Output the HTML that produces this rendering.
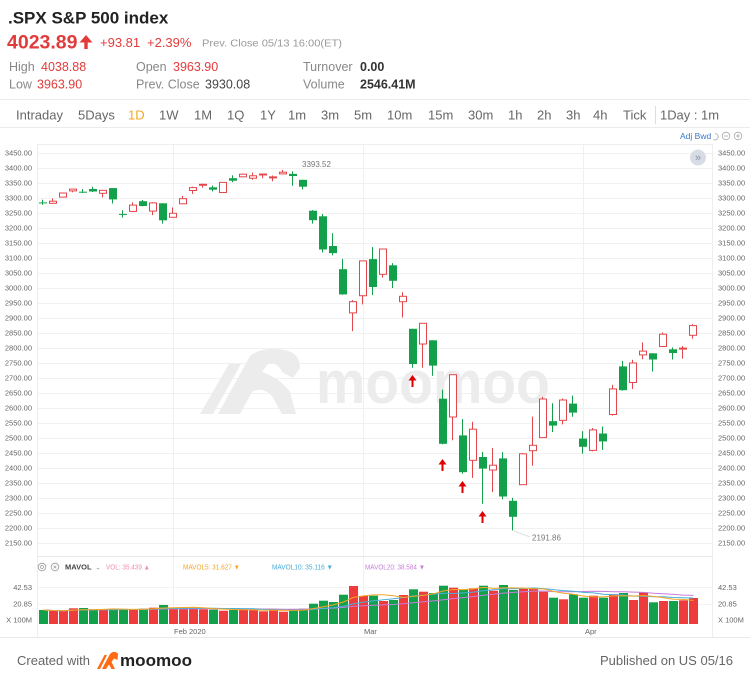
<!DOCTYPE html>
<html>
<head>
<meta charset="utf-8">
<style>
html,body{margin:0;padding:0;background:#fff;}
body{width:750px;height:680px;overflow:hidden;position:relative;}
svg{position:absolute;left:0;top:0;display:block;}
text{font-family:"Liberation Sans",Arial,sans-serif;}
</style>
</head>
<body>
<svg width="750" height="680" viewBox="0 0 750 680" xmlns="http://www.w3.org/2000/svg">
<rect x="0" y="0" width="750" height="680" fill="#fff"/>

<!-- ===== HEADER ===== -->
<text x="8" y="23.5" font-size="17" font-weight="bold" fill="#222">.SPX S&amp;P 500 index</text>
<text x="7" y="48.5" font-size="19.5" font-weight="bold" fill="#e23b3b">4023.89</text>
<path d="M86 35 L79.5 42.5 L92.5 42.5 Z" fill="#e23b3b"/>
<rect x="84.3" y="41" width="3.4" height="8" fill="#e23b3b"/>
<text x="100" y="47" font-size="13" fill="#e23b3b">+93.81</text>
<text x="147" y="47" font-size="13" fill="#e23b3b">+2.39%</text>
<text x="202" y="46.5" font-size="10.5" fill="#9a9a9a" textLength="140" lengthAdjust="spacingAndGlyphs">Prev. Close 05/13 16:00(ET)</text>

<g font-size="12.5">
<text x="9" y="71" fill="#888">High</text>
<text x="41" y="71" fill="#e23b3b">4038.88</text>
<text x="136" y="71" fill="#888">Open</text>
<text x="173" y="71" fill="#e23b3b">3963.90</text>
<text x="303" y="71" fill="#888">Turnover</text>
<text x="360" y="71" fill="#333" font-weight="bold">0.00</text>
<text x="9" y="88.5" fill="#888">Low</text>
<text x="37" y="88.5" fill="#e23b3b">3963.90</text>
<text x="136" y="88.5" fill="#888">Prev. Close</text>
<text x="205" y="88.5" fill="#444">3930.08</text>
<text x="303" y="88.5" fill="#888">Volume</text>
<text x="360" y="88.5" fill="#333" font-weight="bold">2546.41M</text>
</g>

<!-- ===== TABS ===== -->
<line x1="0" y1="99.5" x2="750" y2="99.5" stroke="#ebebeb"/>
<line x1="0" y1="127.5" x2="750" y2="127.5" stroke="#ebebeb"/>
<g font-size="13" fill="#666">
<text x="16" y="119.5">Intraday</text>
<text x="78" y="119.5">5Days</text>
<text x="128" y="119.5" fill="#f5a623">1D</text>
<text x="159" y="119.5">1W</text>
<text x="194" y="119.5">1M</text>
<text x="227" y="119.5">1Q</text>
<text x="260" y="119.5">1Y</text>
<text x="288" y="119.5">1m</text>
<text x="321" y="119.5">3m</text>
<text x="354" y="119.5">5m</text>
<text x="387" y="119.5">10m</text>
<text x="428" y="119.5">15m</text>
<text x="468" y="119.5">30m</text>
<text x="508" y="119.5">1h</text>
<text x="537" y="119.5">2h</text>
<text x="566" y="119.5">3h</text>
<text x="593" y="119.5">4h</text>
<text x="623" y="119.5">Tick</text>
<text x="660" y="119.5" textLength="59" lengthAdjust="spacingAndGlyphs">1Day : 1m</text>
</g>
<line x1="655.5" y1="106" x2="655.5" y2="124" stroke="#ddd"/>

<!-- Adj Bwd + icons -->
<text x="680" y="139" font-size="8.5" fill="#3a78c9">Adj Bwd</text>
<path d="M715 133.5 A3.2 3.2 0 1 1 713.5 139.5" fill="none" stroke="#aaa" stroke-width="0.8"/>
<circle cx="726" cy="136" r="3.8" fill="none" stroke="#aaa" stroke-width="0.8"/>
<line x1="724" y1="136" x2="728" y2="136" stroke="#aaa" stroke-width="0.8"/>
<circle cx="738" cy="136" r="3.8" fill="none" stroke="#aaa" stroke-width="0.8"/>
<line x1="736" y1="136" x2="740" y2="136" stroke="#aaa" stroke-width="0.8"/>
<line x1="738" y1="134" x2="738" y2="138" stroke="#aaa" stroke-width="0.8"/>

<!-- ===== PRICE PLOT FRAME / GRID ===== -->
<line x1="37" y1="144.5" x2="713" y2="144.5" stroke="#eeeeee"/>
<line x1="37.5" y1="144" x2="37.5" y2="637" stroke="#eeeeee"/>
<line x1="712.5" y1="144" x2="712.5" y2="637" stroke="#eeeeee"/>
<path d="M38 153.5H712M38 168.5H712M38 183.5H712M38 198.5H712M38 213.5H712M38 228.5H712M38 243.5H712M38 258.5H712M38 273.5H712M38 288.5H712M38 303.5H712M38 318.5H712M38 333.5H712M38 348.5H712M38 363.5H712M38 378.5H712M38 393.5H712M38 408.5H712M38 423.5H712M38 438.5H712M38 453.5H712M38 468.5H712M38 483.5H712M38 498.5H712M38 513.5H712M38 528.5H712M38 543.5H712" stroke="#f1f1f1" fill="none"/>
<path d="M173.5 145V625M363.5 145V625M583.5 145V625" stroke="#f0f0f0" fill="none"/>
<line x1="37" y1="556.5" x2="713" y2="556.5" stroke="#e8e8e8"/>

<!-- axis labels -->
<g font-size="7.5" fill="#666" text-anchor="end">
<text x="32" y="155.7">3450.00</text><text x="32" y="170.7">3400.00</text><text x="32" y="185.7">3350.00</text><text x="32" y="200.7">3300.00</text><text x="32" y="215.7">3250.00</text><text x="32" y="230.7">3200.00</text><text x="32" y="245.7">3150.00</text><text x="32" y="260.7">3100.00</text><text x="32" y="275.7">3050.00</text><text x="32" y="290.7">3000.00</text><text x="32" y="305.7">2950.00</text><text x="32" y="320.7">2900.00</text><text x="32" y="335.7">2850.00</text><text x="32" y="350.7">2800.00</text><text x="32" y="365.7">2750.00</text><text x="32" y="380.7">2700.00</text><text x="32" y="395.7">2650.00</text><text x="32" y="410.7">2600.00</text><text x="32" y="425.7">2550.00</text><text x="32" y="440.7">2500.00</text><text x="32" y="455.7">2450.00</text><text x="32" y="470.7">2400.00</text><text x="32" y="485.7">2350.00</text><text x="32" y="500.7">2300.00</text><text x="32" y="515.7">2250.00</text><text x="32" y="530.7">2200.00</text><text x="32" y="545.7">2150.00</text>
</g>
<g font-size="7.5" fill="#666">
<text x="718" y="155.7">3450.00</text><text x="718" y="170.7">3400.00</text><text x="718" y="185.7">3350.00</text><text x="718" y="200.7">3300.00</text><text x="718" y="215.7">3250.00</text><text x="718" y="230.7">3200.00</text><text x="718" y="245.7">3150.00</text><text x="718" y="260.7">3100.00</text><text x="718" y="275.7">3050.00</text><text x="718" y="290.7">3000.00</text><text x="718" y="305.7">2950.00</text><text x="718" y="320.7">2900.00</text><text x="718" y="335.7">2850.00</text><text x="718" y="350.7">2800.00</text><text x="718" y="365.7">2750.00</text><text x="718" y="380.7">2700.00</text><text x="718" y="395.7">2650.00</text><text x="718" y="410.7">2600.00</text><text x="718" y="425.7">2550.00</text><text x="718" y="440.7">2500.00</text><text x="718" y="455.7">2450.00</text><text x="718" y="470.7">2400.00</text><text x="718" y="485.7">2350.00</text><text x="718" y="500.7">2300.00</text><text x="718" y="515.7">2250.00</text><text x="718" y="530.7">2200.00</text><text x="718" y="545.7">2150.00</text>
</g>

<!-- ===== WATERMARK ===== -->
<g fill="#ececec">
<path d="M200 414 L229 364 L241 364 L213 414 Z"/>
<path d="M218 414 L250 356 Q262 346 285 350 Q300 353 300 368 L293 378 L282 372 Q278 362 268 364 L262 372 Q280 378 290 392 L296 414 L282 414 L272 396 Q262 386 252 392 L240 414 Z"/>
<text x="316" y="403" font-size="60" font-weight="bold" textLength="234" lengthAdjust="spacingAndGlyphs">moomoo</text>
</g>

<!-- "»" button -->
<circle cx="698" cy="157.5" r="8" fill="#d8dde5"/>
<text x="698" y="161" font-size="11" fill="#8593a8" text-anchor="middle">»</text>

<!-- ===== CANDLES: GREEN (down) ===== -->
<g fill="#13a04b">
<rect x="42" y="199.7" width="1" height="5.1"/><rect x="39" y="202.4" width="8" height="1"/>
<rect x="82" y="189.1" width="1" height="3.9"/><rect x="79" y="191.7" width="8" height="1"/>
<rect x="92" y="186.7" width="1" height="5.3"/><rect x="89" y="189.0" width="8" height="2.5"/>
<rect x="112" y="188.0" width="1" height="15.5"/><rect x="109" y="188.1" width="8" height="11.3"/>
<rect x="122" y="210.3" width="1" height="7.3"/><rect x="119" y="213.9" width="8" height="1"/>
<rect x="142" y="200.0" width="1" height="6.4"/><rect x="139" y="201.2" width="8" height="4.8"/>
<rect x="162" y="203.3" width="1" height="20.3"/><rect x="159" y="203.3" width="8" height="17.0"/>
<rect x="212" y="185.6" width="1" height="5.8"/><rect x="209" y="187.3" width="8" height="2.4"/>
<rect x="232" y="175.3" width="1" height="6.9"/><rect x="229" y="178.2" width="8" height="2.5"/>
<rect x="292" y="171.3" width="1" height="14.4"/><rect x="289" y="173.9" width="8" height="2.1"/>
<rect x="302" y="179.8" width="1" height="9.7"/><rect x="299" y="179.8" width="8" height="6.9"/>
<rect x="312" y="210.1" width="1" height="13.5"/><rect x="309" y="210.7" width="8" height="9.5"/>
<rect x="322" y="213.9" width="1" height="38.5"/><rect x="319" y="216.3" width="8" height="33.2"/>
<rect x="332" y="233.2" width="1" height="22.1"/><rect x="329" y="246.0" width="8" height="7.1"/>
<rect x="342" y="258.9" width="1" height="35.9"/><rect x="339" y="269.2" width="8" height="25.2"/>
<rect x="372" y="247.0" width="1" height="48.0"/><rect x="369" y="259.1" width="8" height="27.9"/>
<rect x="392" y="263.1" width="1" height="24.9"/><rect x="389" y="265.3" width="8" height="15.5"/>
<rect x="412" y="328.8" width="1" height="38.9"/><rect x="409" y="328.8" width="8" height="35.2"/>
<rect x="432" y="340.3" width="1" height="35.5"/><rect x="429" y="340.3" width="8" height="25.3"/>
<rect x="442" y="389.7" width="1" height="54.6"/><rect x="439" y="398.7" width="8" height="45.1"/>
<rect x="462" y="419.1" width="1" height="54.6"/><rect x="459" y="435.4" width="8" height="36.8"/>
<rect x="482" y="451.9" width="1" height="51.9"/><rect x="479" y="457.0" width="8" height="11.6"/>
<rect x="502" y="452.1" width="1" height="47.2"/><rect x="499" y="458.4" width="8" height="38.1"/>
<rect x="512" y="497.8" width="1" height="32.6"/><rect x="509" y="500.8" width="8" height="16.0"/>
<rect x="552" y="403.2" width="1" height="28.8"/><rect x="549" y="421.2" width="8" height="4.4"/>
<rect x="572" y="395.6" width="1" height="21.1"/><rect x="569" y="403.6" width="8" height="9.0"/>
<rect x="582" y="431.2" width="1" height="22.6"/><rect x="579" y="438.6" width="8" height="8.2"/>
<rect x="602" y="426.5" width="1" height="23.5"/><rect x="599" y="433.5" width="8" height="7.9"/>
<rect x="622" y="360.9" width="1" height="29.8"/><rect x="619" y="366.4" width="8" height="23.8"/>
<rect x="652" y="353.3" width="1" height="18.3"/><rect x="649" y="353.3" width="8" height="6.2"/>
<rect x="672" y="347.4" width="1" height="12.1"/><rect x="669" y="349.3" width="8" height="3.7"/>
</g>

<!-- ===== CANDLES: RED (up, hollow) ===== -->
<g fill="#e4474b">
<rect x="52" y="198.4" width="1" height="5.4"/>
<rect x="62" y="192.9" width="1" height="4.3"/>
<rect x="72" y="189.0" width="1" height="3.3"/>
<rect x="102" y="189.9" width="1" height="7.5"/>
<rect x="132" y="202.3" width="1" height="9.7"/>
<rect x="152" y="202.2" width="1" height="13.0"/>
<rect x="172" y="207.5" width="1" height="9.8"/>
<rect x="182" y="195.9" width="1" height="7.9"/>
<rect x="192" y="186.7" width="1" height="7.2"/>
<rect x="202" y="183.6" width="1" height="4.1"/>
<rect x="222" y="182.3" width="1" height="10.4"/>
<rect x="242" y="173.6" width="1" height="3.5"/>
<rect x="252" y="172.5" width="1" height="7.3"/>
<rect x="262" y="173.8" width="1" height="4.4"/>
<rect x="272" y="175.5" width="1" height="5.8"/>
<rect x="282" y="169.9" width="1" height="4.5"/>
<rect x="352" y="300.1" width="1" height="31.1"/>
<rect x="362" y="260.7" width="1" height="43.7"/>
<rect x="382" y="248.7" width="1" height="29.0"/>
<rect x="402" y="292.2" width="1" height="25.3"/>
<rect x="422" y="323.2" width="1" height="44.6"/>
<rect x="452" y="374.6" width="1" height="65.7"/>
<rect x="472" y="421.8" width="1" height="56.1"/>
<rect x="492" y="447.9" width="1" height="44.2"/>
<rect x="522" y="453.1" width="1" height="31.6"/>
<rect x="532" y="416.6" width="1" height="49.1"/>
<rect x="542" y="396.9" width="1" height="40.9"/>
<rect x="562" y="398.5" width="1" height="25.9"/>
<rect x="592" y="428.0" width="1" height="23.3"/>
<rect x="612" y="384.9" width="1" height="30.7"/>
<rect x="632" y="359.8" width="1" height="29.2"/>
<rect x="642" y="342.4" width="1" height="16.9"/>
<rect x="662" y="332.4" width="1" height="14.1"/>
<rect x="682" y="346.0" width="1" height="12.7"/>
<rect x="692" y="324.2" width="1" height="14.5"/>
</g>
<g fill="#fff" stroke="#e4474b" stroke-width="1">
<rect x="49.5" y="201.2" width="7" height="2.1"/>
<rect x="59.5" y="193.0" width="7" height="4.1"/>
<rect x="69.5" y="189.1" width="7" height="1.8"/>
<rect x="99.5" y="190.3" width="7" height="3.0"/>
<rect x="129.5" y="205.1" width="7" height="6.3"/>
<rect x="149.5" y="202.9" width="7" height="8.2"/>
<rect x="169.5" y="213.3" width="7" height="4.0"/>
<rect x="179.5" y="198.7" width="7" height="5.1"/>
<rect x="189.5" y="187.6" width="7" height="2.9"/>
<rect x="199.5" y="184.3" width="7" height="1"/>
<rect x="219.5" y="182.4" width="7" height="10.1"/>
<rect x="239.5" y="174.2" width="7" height="2.6"/>
<rect x="249.5" y="175.8" width="7" height="2.4"/>
<rect x="259.5" y="174.0" width="7" height="1"/>
<rect x="269.5" y="176.9" width="7" height="1"/>
<rect x="279.5" y="172.2" width="7" height="1.7"/>
<rect x="349.5" y="301.7" width="7" height="11.2"/>
<rect x="359.5" y="260.9" width="7" height="34.8"/>
<rect x="379.5" y="249.0" width="7" height="25.3"/>
<rect x="399.5" y="296.3" width="7" height="5.4"/>
<rect x="419.5" y="323.3" width="7" height="20.7"/>
<rect x="449.5" y="374.7" width="7" height="42.3"/>
<rect x="469.5" y="429.2" width="7" height="31.1"/>
<rect x="489.5" y="465.2" width="7" height="4.8"/>
<rect x="519.5" y="453.8" width="7" height="30.9"/>
<rect x="529.5" y="445.3" width="7" height="5.4"/>
<rect x="539.5" y="399.0" width="7" height="38.6"/>
<rect x="559.5" y="400.0" width="7" height="20.3"/>
<rect x="589.5" y="429.9" width="7" height="20.5"/>
<rect x="609.5" y="388.9" width="7" height="25.6"/>
<rect x="629.5" y="363.0" width="7" height="19.5"/>
<rect x="639.5" y="351.1" width="7" height="3.8"/>
<rect x="659.5" y="334.2" width="7" height="12.3"/>
<rect x="679.5" y="348.1" width="7" height="1"/>
<rect x="689.5" y="325.6" width="7" height="9.7"/>
</g>

<!-- annotations -->
<text x="302" y="167" font-size="8" fill="#777">3393.52</text>
<line x1="514" y1="531" x2="530" y2="537" stroke="#d8d8d8" stroke-width="0.8"/>
<text x="532" y="540.5" font-size="8" fill="#777">2191.86</text>

<!-- red arrows -->
<g fill="#e00000">
<path d="M412.5 375 L408.5 380.5 L416.5 380.5 Z"/><rect x="411.5" y="380" width="2" height="7"/>
<path d="M442.5 459 L438.5 464.5 L446.5 464.5 Z"/><rect x="441.5" y="464" width="2" height="7"/>
<path d="M462.5 481 L458.5 486.5 L466.5 486.5 Z"/><rect x="461.5" y="486" width="2" height="7"/>
<path d="M482.5 511 L478.5 516.5 L486.5 516.5 Z"/><rect x="481.5" y="516" width="2" height="7"/>
</g>

<!-- ===== VOLUME PANEL ===== -->
<circle cx="42" cy="567" r="3.8" fill="none" stroke="#999" stroke-width="0.8"/>
<circle cx="42" cy="567" r="1.5" fill="none" stroke="#999" stroke-width="0.7"/>
<circle cx="55" cy="567" r="3.8" fill="none" stroke="#999" stroke-width="0.8"/>
<path d="M53.6 565.6 L56.4 568.4 M56.4 565.6 L53.6 568.4" stroke="#999" stroke-width="0.7"/>
<text x="65" y="569.7" font-size="7.5" font-weight="bold" fill="#444">MAVOL</text>
<text x="95" y="569.7" font-size="7" fill="#999">⌄</text>
<text x="106" y="569.7" font-size="7" fill="#f08cb0" textLength="44" lengthAdjust="spacingAndGlyphs">VOL: 35.439 ▲</text>
<text x="183" y="569.7" font-size="7" fill="#f5a623" textLength="57" lengthAdjust="spacingAndGlyphs">MAVOL5: 31.627 ▼</text>
<text x="272" y="569.7" font-size="7" fill="#46acd8" textLength="61" lengthAdjust="spacingAndGlyphs">MAVOL10: 35.116 ▼</text>
<text x="365" y="569.7" font-size="7" fill="#c77ddb" textLength="60" lengthAdjust="spacingAndGlyphs">MAVOL20: 38.584 ▼</text>

<path d="M38 587.5H712M38 604.5H712" stroke="#f3f3f3" fill="none"/>

<g font-size="7.5" fill="#666" text-anchor="end">
<text x="32" y="589.8">42.53</text>
<text x="32" y="606.5">20.85</text>
<text x="32" y="622.5">X 100M</text>
</g>
<g font-size="7.5" fill="#666">
<text x="718" y="589.8">42.53</text>
<text x="718" y="606.5">20.85</text>
<text x="718" y="622.5">X 100M</text>
</g>

<!-- volume bars green -->
<g fill="#13a04b">
<rect x="39" y="610" width="9" height="14"/>
<rect x="79" y="608" width="9" height="16"/>
<rect x="89" y="610" width="9" height="14"/>
<rect x="109" y="608.7" width="9" height="15.3"/>
<rect x="119" y="609" width="9" height="15"/>
<rect x="139" y="608.7" width="9" height="15.3"/>
<rect x="159" y="605" width="9" height="19"/>
<rect x="209" y="609.7" width="9" height="14.3"/>
<rect x="229" y="610" width="9" height="14"/>
<rect x="289" y="609.3" width="9" height="14.7"/>
<rect x="299" y="608.7" width="9" height="15.3"/>
<rect x="309" y="603.7" width="9" height="20.3"/>
<rect x="319" y="600.7" width="9" height="23.3"/>
<rect x="329" y="602" width="9" height="22"/>
<rect x="339" y="594.7" width="9" height="29.3"/>
<rect x="369" y="595.7" width="9" height="28.3"/>
<rect x="389" y="600" width="9" height="24"/>
<rect x="409" y="589.3" width="9" height="34.7"/>
<rect x="429" y="593" width="9" height="31"/>
<rect x="439" y="585.7" width="9" height="38.3"/>
<rect x="459" y="589.7" width="9" height="34.3"/>
<rect x="479" y="585.7" width="9" height="38.3"/>
<rect x="499" y="585" width="9" height="39"/>
<rect x="509" y="590" width="9" height="34"/>
<rect x="549" y="597.7" width="9" height="26.3"/>
<rect x="569" y="594.3" width="9" height="29.7"/>
<rect x="579" y="597.7" width="9" height="26.3"/>
<rect x="599" y="597.7" width="9" height="26.3"/>
<rect x="619" y="593" width="9" height="31"/>
<rect x="649" y="602.3" width="9" height="21.7"/>
<rect x="669" y="601" width="9" height="23"/>
</g>
<!-- volume bars red -->
<g fill="#ee3b3b">
<rect x="49" y="611" width="9" height="13"/>
<rect x="59" y="611" width="9" height="13"/>
<rect x="69" y="608.3" width="9" height="15.7"/>
<rect x="99" y="609.7" width="9" height="14.3"/>
<rect x="129" y="609.7" width="9" height="14.3"/>
<rect x="149" y="607.7" width="9" height="16.3"/>
<rect x="169" y="608" width="9" height="16"/>
<rect x="179" y="608" width="9" height="16"/>
<rect x="189" y="608" width="9" height="16"/>
<rect x="199" y="609.3" width="9" height="14.7"/>
<rect x="219" y="610.7" width="9" height="13.3"/>
<rect x="239" y="609.3" width="9" height="14.7"/>
<rect x="249" y="610" width="9" height="14"/>
<rect x="259" y="611.3" width="9" height="12.7"/>
<rect x="269" y="609.7" width="9" height="14.3"/>
<rect x="279" y="611.7" width="9" height="12.3"/>
<rect x="349" y="586" width="9" height="38"/>
<rect x="359" y="596" width="9" height="28"/>
<rect x="379" y="601" width="9" height="23"/>
<rect x="399" y="595" width="9" height="29"/>
<rect x="419" y="591.7" width="9" height="32.3"/>
<rect x="449" y="587.7" width="9" height="36.3"/>
<rect x="469" y="588.3" width="9" height="35.7"/>
<rect x="489" y="590.7" width="9" height="33.3"/>
<rect x="519" y="589" width="9" height="35"/>
<rect x="529" y="588.7" width="9" height="35.3"/>
<rect x="539" y="591.7" width="9" height="32.3"/>
<rect x="559" y="599.3" width="9" height="24.7"/>
<rect x="589" y="595.7" width="9" height="28.3"/>
<rect x="609" y="594.3" width="9" height="29.7"/>
<rect x="629" y="600" width="9" height="24"/>
<rect x="639" y="592.3" width="9" height="31.7"/>
<rect x="659" y="601" width="9" height="23"/>
<rect x="679" y="600.3" width="9" height="23.7"/>
<rect x="689" y="598" width="9" height="26"/>
</g>

<!-- MA lines -->
<polyline fill="none" stroke="#c77ddb" stroke-width="1" points="43.5,610 53.5,610.5 63.5,610.7 73.5,610.1 83.5,609.7 93.5,609.7 103.5,609.7 113.5,609.6 123.5,609.5 133.5,609.5 143.5,609.5 153.5,609.3 163.5,609 173.5,608.9 183.5,608.9 193.5,608.8 203.5,608.8 213.5,608.9 223.5,609 233.5,609 243.5,609 253.5,608.9 263.5,609 273.5,609 283.5,609.2 293.5,609.2 303.5,609.1 313.5,608.9 323.5,608.5 333.5,608.1 343.5,607.4 353.5,606.3 363.5,605.8 373.5,605.2 383.5,604.9 393.5,604.5 403.5,603.8 413.5,602.7 423.5,601.8 433.5,600.9 443.5,599.8 453.5,598.6 463.5,597.6 473.5,596.5 483.5,595.2 493.5,594.3 503.5,593.1 513.5,592.4 523.5,591.8 533.5,591.1 543.5,591 553.5,591.6 563.5,591.7 573.5,591.7 583.5,591.5 593.5,591.3 603.5,591.4 613.5,591.7 623.5,591.7 633.5,592.1 643.5,592.4 653.5,593.2 663.5,593.7 673.5,594.4 683.5,595.1 693.5,595.4"/>
<polyline fill="none" stroke="#4aaedb" stroke-width="1" points="43.5,610 53.5,610.5 63.5,610.7 73.5,610.1 83.5,609.7 93.5,609.7 103.5,609.7 113.5,609.6 123.5,609.5 133.5,609.5 143.5,609.4 153.5,609.1 163.5,608.5 173.5,608.4 183.5,608.4 193.5,608.2 203.5,608.2 213.5,608.3 223.5,608.5 233.5,608.5 243.5,608.6 253.5,608.8 263.5,609.4 273.5,609.6 283.5,610 293.5,610.1 303.5,610 313.5,609.4 323.5,608.4 333.5,607.6 343.5,606.2 353.5,603.8 363.5,602.2 373.5,600.8 383.5,599.8 393.5,598.8 403.5,597.5 413.5,596 423.5,595.1 433.5,594.2 443.5,593.3 453.5,593.5 463.5,592.9 473.5,592.1 483.5,590.6 493.5,589.7 503.5,588.7 513.5,588.7 523.5,588.5 533.5,588 543.5,588.6 553.5,589.6 563.5,590.6 573.5,591.2 583.5,592.4 593.5,592.9 603.5,594.2 613.5,594.6 623.5,595 633.5,596.1 643.5,596.2 653.5,596.7 663.5,596.8 673.5,597.5 683.5,597.8 693.5,598"/>
<polyline fill="none" stroke="#f5a623" stroke-width="1" points="43.5,610 53.5,610.5 63.5,610.7 73.5,610.1 83.5,609.7 93.5,609.7 103.5,609.4 113.5,608.9 123.5,609.1 133.5,609.4 143.5,609.2 153.5,608.8 163.5,608 173.5,607.8 183.5,607.5 193.5,607.3 203.5,607.7 213.5,608.6 223.5,609.1 233.5,609.5 243.5,609.8 253.5,609.9 263.5,610.3 273.5,610.1 283.5,610.4 293.5,610.4 303.5,610.1 313.5,608.6 323.5,606.8 333.5,604.9 343.5,602 353.5,597.4 363.5,595.9 373.5,594.9 383.5,594.7 393.5,595.7 403.5,597.5 413.5,596.2 423.5,595.4 433.5,593.8 443.5,590.9 453.5,589.5 463.5,589.6 473.5,588.9 483.5,587.4 493.5,588.4 503.5,587.9 513.5,587.9 523.5,588.1 533.5,588.7 543.5,588.9 553.5,591.4 563.5,593.3 573.5,594.3 583.5,596.1 593.5,596.9 603.5,596.9 613.5,595.9 623.5,595.7 633.5,596.1 643.5,595.5 653.5,596.4 663.5,597.7 673.5,599.3 683.5,599.4 693.5,600.5"/>

<!-- date labels -->
<g font-size="7.5" fill="#666">
<text x="174" y="634">Feb 2020</text>
<text x="364" y="634">Mar</text>
<text x="585" y="634">Apr</text>
</g>
<line x1="0" y1="637.5" x2="750" y2="637.5" stroke="#e8e8e8"/>

<!-- ===== FOOTER ===== -->
<text x="17" y="665" font-size="13" fill="#666">Created with</text>
<g fill="#ff6a13">
<path d="M97 669 L104.5 655 L107 655 L100 669 Z"/>
<path d="M102 669 L110 654 Q113.5 650 118 653.5 L117.5 660 L114 658.5 L111.5 662 L115 669 L111.5 669 L109 664.5 L106 669 Z"/>
</g>
<text x="120" y="666" font-size="17" font-weight="bold" fill="#222" textLength="72" lengthAdjust="spacingAndGlyphs">moomoo</text>
<text x="733" y="665" font-size="13" fill="#666" text-anchor="end">Published on US 05/16</text>
</svg>
</body>
</html>
